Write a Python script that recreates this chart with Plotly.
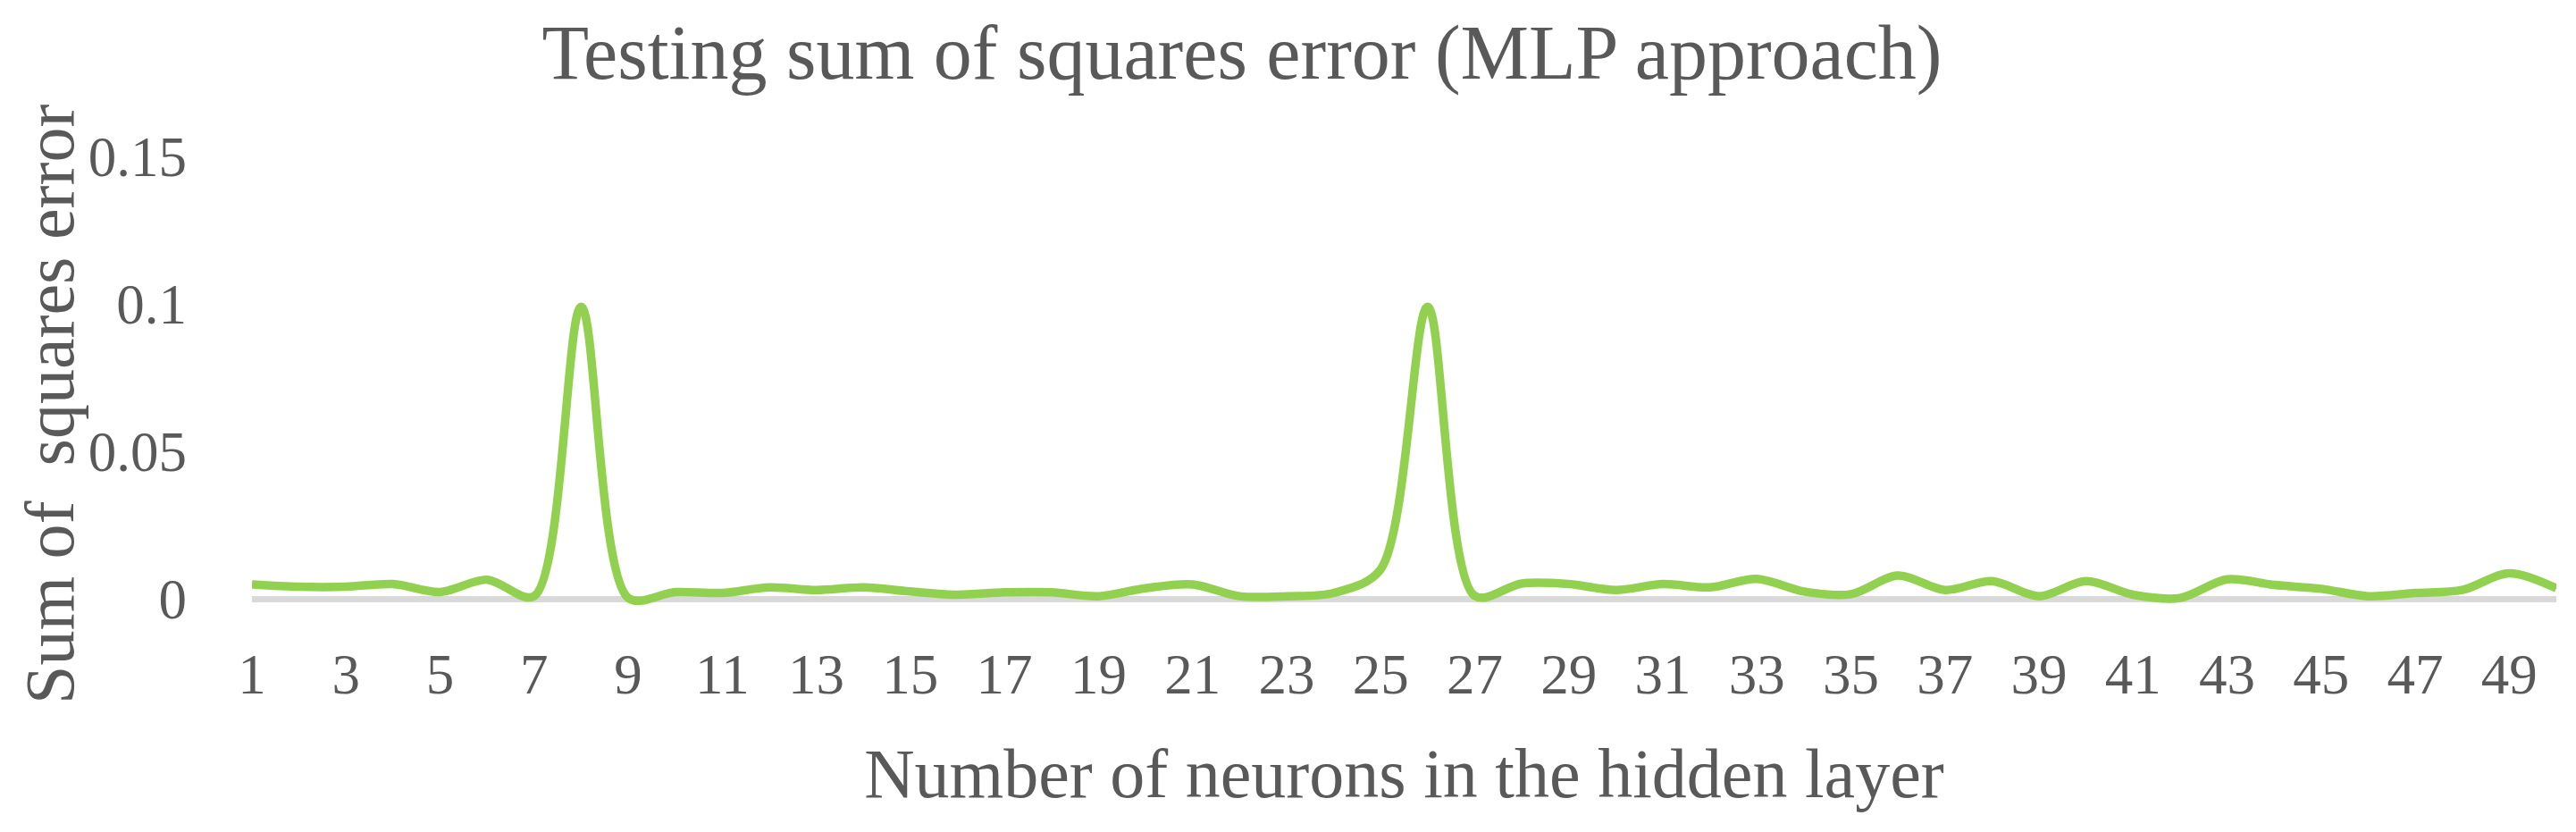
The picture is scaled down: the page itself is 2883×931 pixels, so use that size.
import plotly.graph_objects as go

neurons = list(range(1, 51))
sse = [0.0049, 0.0041, 0.0041, 0.0050, 0.0023, 0.0065, 0.0009, 0.0990, 0.0003, 0.0023,
       0.0020, 0.0039, 0.0030, 0.0039, 0.0025, 0.0014, 0.0022, 0.0022, 0.0009, 0.0036,
       0.0049, 0.0009, 0.0009, 0.0020, 0.0100, 0.0990, 0.0010, 0.0052, 0.0050, 0.0030,
       0.0050, 0.0039, 0.0068, 0.0025, 0.0016, 0.0079, 0.0030, 0.0060, 0.0009, 0.0060,
       0.0014, 0.0003, 0.0066, 0.0047, 0.0034, 0.0009, 0.0020, 0.0030, 0.0087, 0.0036]
x_ticks = list(range(1, 50, 2))
y_ticks = [0, 0.05, 0.1, 0.15]
y_tick_text = ["0", "0.05", "0.1", "0.15"]

FONT = "Palatino Linotype, Book Antiqua, Palatino, Liberation Serif, serif"
GREY = "#595959"

W, H = 2883, 931
L, R, T, B = 274, 30, 167, 259

fig = go.Figure()
fig.add_trace(go.Scatter(
    x=neurons, y=sse, mode="lines",
    line=dict(color="#92D050", width=9.5, shape="spline", smoothing=0.9),
    showlegend=False,
))

fig.update_layout(
    width=W, height=H,
    margin=dict(l=L, r=R, t=T, b=B),
    paper_bgcolor="white", plot_bgcolor="white",
    font=dict(family=FONT, color=GREY),
    title=dict(text="Testing sum of squares error (MLP approach)",
               x=1382 / W, xanchor="center", y=1 - 50 / H, yanchor="middle",
               font=dict(size=86, color=GREY, family=FONT)),
    xaxis=dict(range=[1, 50], tickvals=x_ticks, ticktext=[str(v) for v in x_ticks],
               showgrid=False, zeroline=False, showline=False,
               tickfont=dict(size=63, color=GREY), ticks="", ticklabelstandoff=32,
               title=dict(text="Number of neurons in the hidden layer",
                          font=dict(size=78, color=GREY), standoff=48)),
    yaxis=dict(range=[-0.003, 0.15], tickvals=y_ticks, ticktext=y_tick_text,
               showgrid=False, zeroline=True, zerolinecolor="#D9D9D9", zerolinewidth=7,
               showline=False, ticks="", tickfont=dict(size=63, color=GREY),
               ticklabelstandoff=72),
    annotations=[dict(
        text="Sum of\u00a0 squares error", textangle=-90, showarrow=False,
        xref="paper", yref="paper",
        x=(47 - L) / (W - L - R), y=(H - B - 444) / (H - T - B),
        xanchor="center", yanchor="middle", borderpad=0,
        font=dict(size=78, color=GREY, family=FONT),
    )],
)

fig.write_html("out.html")
